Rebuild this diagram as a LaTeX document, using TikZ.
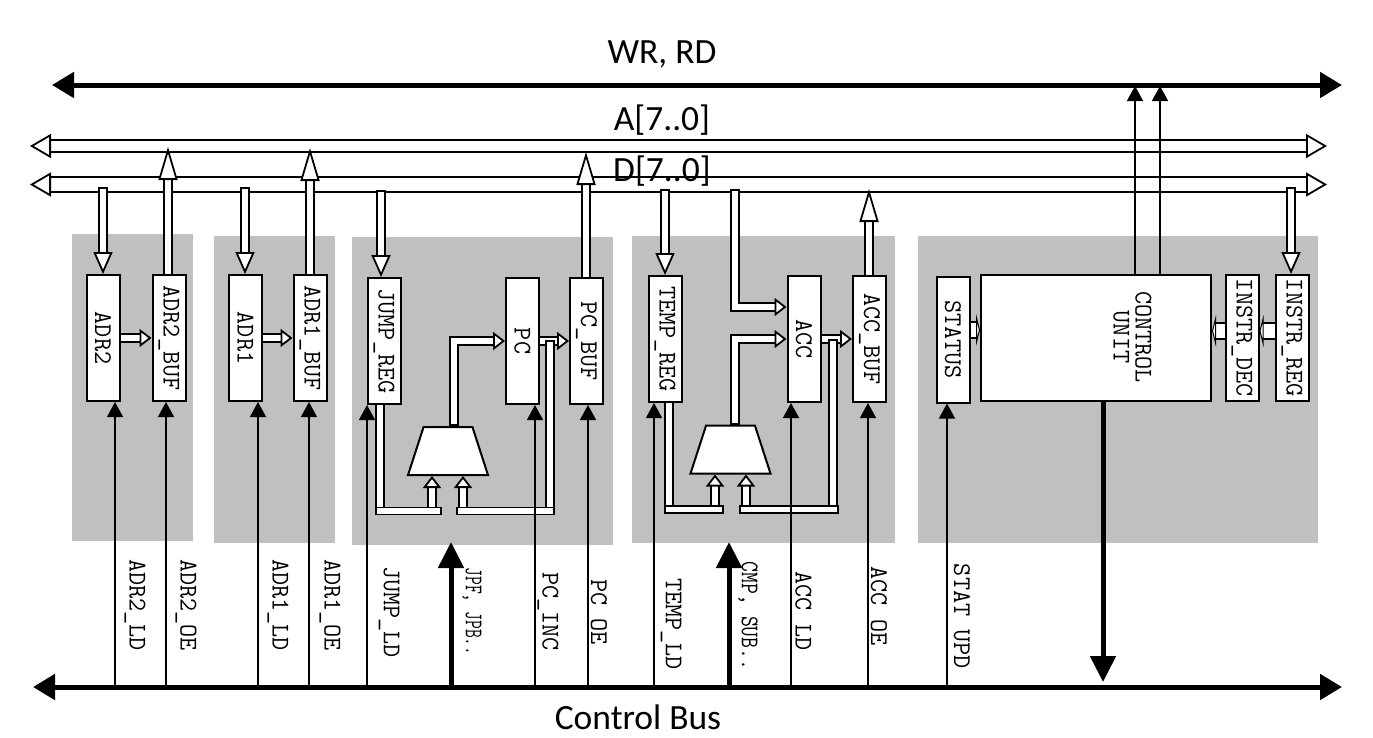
\documentclass[tikz,border=0pt]{standalone}
\usepackage{fontspec}
\setmainfont{Carlito}
\usepackage{graphicx}
\usetikzlibrary{arrows.meta,positioning,shapes.geometric}
\newcommand{\rt}[1]{\rotatebox{-90}{#1}}
\definecolor{panelgrey}{RGB}{192,192,192}
\tikzset{
    x=1pt, y=-1pt,
    regbox/.style={
      rectangle,
      draw=black, line width=2pt,
      fill=white,
      inner sep=0pt,
      minimum width=33pt,
      minimum height=126pt,
      font=\fontsize{25.5}{27}\ttfamily},
    muxshape/.style={
      trapezium,
      trapezium stretches=true,
      trapezium left angle=67,
      trapezium right angle=67,
      draw=black, line width=2pt,
      fill=white,
      inner sep=0pt,
      minimum width=80pt,
      minimum height=48pt},
    barbox/.style={
      rectangle,
      draw=black, line width=1.9pt,
      fill=white,
      inner sep=0pt,
      minimum height=7pt},
    title/.style={font=\fontsize{35.5}{40}\selectfont, inner sep=0pt},
    siglabel/.style={font=\fontsize{25.5}{27}\ttfamily, inner sep=0pt},
    hollow/.style={draw=black, line width=1.9pt, double=white, double distance=6pt},
    cap/.tip={Bar[width=9.8pt,line width=1.9pt]},
    longhead/.tip={Triangle[fill=white,length=33pt,width=19pt,line width=1.8pt]},
    downhead/.tip={Triangle[fill=white,length=22pt,width=19pt,line width=1.8pt]},
    sidehead/.tip={Triangle[fill=white,length=12pt,width=18pt,line width=1.8pt]},
    flathead/.tip={Triangle[fill=white,length=4pt,width=32pt,line width=2pt]},
    busline/.style={line width=5pt, {Triangle[length=22pt,width=25pt]}-{Triangle[length=22pt,width=25pt]}},
    wideline/.style={line width=5pt, -{Triangle[length=26pt,width=25pt]}},
    sigline/.style={line width=1.5pt, -{Triangle[length=15pt,width=16pt]}},
    databus/.style={
      draw=black, line width=1.8pt, double=white,
      {Triangle[fill=white,length=21pt,width=24pt,line width=1.8pt]}-{Triangle[fill=white,length=21pt,width=24pt,line width=1.8pt]}},
}

\begin{document}
\begin{tikzpicture}
    \useasboundingbox (0,0) rectangle (1373,737);

    \foreach \xa/\ya/\xb/\yb in {72/234/193/541,214/236/335/543,352/237/613/545,632/236/895/543,918/236/1318/543}
        \fill[panelgrey] (\xa,\ya) rectangle (\xb,\yb);

    \coordinate (wrL) at (52,85);
    \coordinate (wrR) at (1342,85);
    \coordinate (aL) at (30,146);
    \coordinate (aR) at (1327,146);
    \coordinate (dL) at (30,184.5);
    \coordinate (dR) at (1327,184.5);
    \coordinate (cbL) at (33,687);
    \coordinate (cbR) at (1342,687);

    \draw[databus, double distance=10.2pt] (aL) -- (aR);
    \draw[databus, double distance=13.2pt] (dL) -- (dR);

    \node[regbox] (adr2) at (103,338) {\rt{ADR2}};
    \node[regbox] (adr2Buf) at (169,338) {\rt{ADR2\_BUF}};
    \node[regbox] (adr1) at (245.5,338) {\rt{ADR1}};
    \node[regbox] (adr1Buf) at (310,338) {\rt{ADR1\_BUF}};
    \node[regbox] (jumpReg) at (384,341) {\rt{JUMP\_REG}};
    \node[regbox] (pc) at (522.5,341) {\rt{PC}};
    \node[regbox] (pcBuf) at (586.5,341) {\rt{PC\_BUF}};
    \node[regbox] (tempReg) at (665,339) {\rt{TEMP\_REG}};
    \node[regbox] (acc) at (804,339) {\rt{ACC}};
    \node[regbox] (accBuf) at (869.5,339) {\rt{ACC\_BUF}};
    \node[regbox] (status) at (953,339.5) {\rt{STATUS}};
    \node[regbox, minimum width=230pt] (ctrl) at (1096,338) {};
    \node[regbox] (instrDec) at (1242,338) {\rt{INSTR\_DEC}};
    \node[regbox] (instrReg) at (1292,338) {\rt{INSTR\_REG}};
    \node[siglabel, align=center] (ctrlText) at (1130,337) {\rt{\begin{tabular}{@{}c@{}}CONTROL\\[-5pt]UNIT\end{tabular}}};

    \node[muxshape] (mux1) at (448,451) {\phantom{M}};
    \node[muxshape] (mux2) at (730.5,449.5) {\phantom{M}};
    \node[barbox, minimum width=65pt] (bar1L) at (408.5,511) {};
    \node[barbox, minimum width=97pt] (bar1R) at (505.5,511) {};
    \node[barbox, minimum width=58pt] (bar2L) at (694,509.5) {};
    \node[barbox, minimum width=98pt] (bar2R) at (789,509.5) {};

    \draw[hollow, {cap}-{downhead}] (103,187) -- (adr2.north);
    \draw[hollow, -{longhead}] (adr2Buf.north -| 168,0) -- (168,147);
    \draw[hollow, {cap}-{downhead}] (245,187) -- (adr1.north -| 245,0);
    \draw[hollow, -{longhead}] (adr1Buf.north) -- (310,148);
    \draw[hollow, {cap}-{downhead}] (381,190) -- (jumpReg.north -| 381,0);
    \draw[hollow, -{longhead}] (pcBuf.north -| 586,0) -- (586,152);
    \draw[hollow, {cap}-{downhead}] (665,189) -- (tempReg.north);
    \draw[hollow, {cap}-{sidehead}] (735,189) |- (acc.west |- 0,307);
    \draw[hollow, -{longhead}] (accBuf.north -| 869,0) -- (869,189);
    \draw[hollow, {cap}-{downhead}] (1291,187) -- (instrReg.north -| 1291,0);
    \draw[hollow, -{sidehead}] (adr2.east |- 0,338) -- (adr2Buf.west);
    \draw[hollow, -{sidehead}] (adr1.east |- 0,338) -- (adr1Buf.west);

    \draw[hollow, {cap}-{sidehead}] (mux1.north -| 454,0) |- (pc.west);
    \draw[hollow, -{sidehead}] (pc.east) -- (pcBuf.west);
    \draw[hollow] (jumpReg.south -| 380,0) -- (bar1L.north -| 380,0);
    \draw[hollow, {cap}-] (550,340) -- (bar1R.north -| 550,0);
    \draw[hollow, -{sidehead}] (bar1L.north -| 432,0) -- (mux1.south -| 432,0);
    \draw[hollow, -{sidehead}] (bar1R.north -| 463,0) -- (mux1.south -| 463,0);

    \draw[hollow, {cap}-{sidehead}] (mux2.north -| 735,0) |- (acc.west);
    \draw[hollow, -{sidehead}] (acc.east) -- (accBuf.west);
    \draw[hollow] (tempReg.south -| 669,0) -- (bar2L.north -| 669,0);
    \draw[hollow, {cap}-] (833,339) -- (bar2R.north -| 833,0);
    \draw[hollow, -{sidehead}] (bar2L.north -| 715,0) -- (mux2.south -| 715,0);
    \draw[hollow, -{sidehead}] (bar2R.north -| 746,0) -- (mux2.south -| 746,0);

    \draw[hollow, double distance=14pt, -{flathead}] (status.east |- 0,330) -- (ctrl.west |- 0,330);
    \draw[hollow, double distance=14pt, -{flathead}] (instrDec.west |- 0,331) -- (ctrl.east |- 0,331);
    \draw[hollow, double distance=14pt, -{flathead}] (instrReg.west |- 0,331) -- (instrDec.east |- 0,331);

    \draw[sigline] (ctrl.north -| 1135,0) -- (1135,86);
    \draw[sigline] (ctrl.north -| 1160,0) -- (1160,86);
    \draw[busline] (wrL) -- (wrR);

    \foreach \xpos/\target in {115/adr2,166/adr2Buf,258/adr1,309/adr1Buf,367/jumpReg,535/pc,588/pcBuf,654/tempReg,791/acc,868/accBuf,947/status}
        \draw[sigline] (\xpos,687) -- (\target.south -| \xpos,687);
    \draw[wideline] (451,687) -- (451,542);
    \draw[wideline] (729,687) -- (729,542);
    \draw[wideline] (ctrl.south -| 1103,0) -- (1103,682);
    \draw[busline] (cbL) -- (cbR);

    \node[title] (wrText) at (662,54) {WR, RD};
    \node[title] (aText) at (662,120) {A[7..0]};
    \node[title] (dText) at (662,171) {D[7..0]};
    \node[title] (cbText) at (638,717) {Control Bus};

    \node[siglabel] (adr2Ld) at (135,605) {\rt{ADR2\_LD}};
    \node[siglabel] (adr2Oe) at (186,605) {\rt{ADR2\_OE}};
    \node[siglabel] (adr1Ld) at (278,605) {\rt{ADR1\_LD}};
    \node[siglabel] (adr1Oe) at (330,605) {\rt{ADR1\_OE}};
    \node[siglabel] (jumpLd) at (389,612) {\rt{JUMP\_LD}};
    \node[siglabel] (jpfText) at (472,611.5) {\rt{\scalebox{0.67}[1]{JPF, JPB..}}};
    \node[siglabel] (pcInc) at (548,611.5) {\rt{PC\_INC}};
    \node[siglabel] (pcOe) at (599,612) {\rt{PC OE}};
    \node[siglabel] (tempLd) at (671,624) {\rt{TEMP\_LD}};
    \node[siglabel] (cmpText) at (748,616) {\rt{\scalebox{0.83}[1]{CMP, SUB..}}};
    \node[siglabel] (accLd) at (801,611) {\rt{ACC\_LD}};
    \node[siglabel] (accOe) at (879,606) {\rt{ACC OE}};
    \node[siglabel] (statUpd) at (962,616.5) {\rt{STAT UPD}};
\end{tikzpicture}
\end{document}
